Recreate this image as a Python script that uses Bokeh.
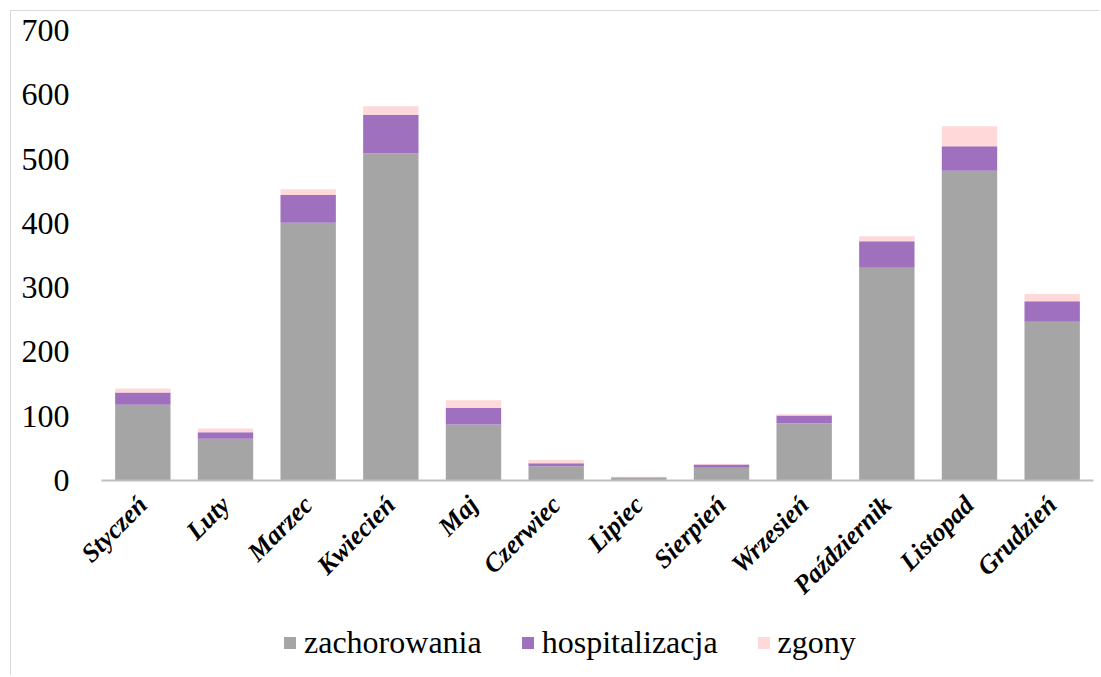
from bokeh.plotting import figure
from bokeh.models import ColumnDataSource, Legend, LegendItem, FixedTicker
from bokeh.layouts import column
from bokeh.embed import file_html
from bokeh.resources import INLINE
import math

months = ["Styczeń", "Luty", "Marzec", "Kwiecień", "Maj", "Czerwiec", "Lipiec",
          "Sierpień", "Wrzesień", "Październik", "Listopad", "Grudzień"]
zachorowania = [118, 65, 401, 509, 87, 22, 5, 20, 89, 331, 482, 247]
hospitalizacja = [19, 10, 43, 60, 26, 5, 0, 5, 12, 41, 38, 32]
zgony = [6, 6, 9, 13, 12, 5, 1, 1, 2, 8, 31, 11]
series = ["zachorowania", "hospitalizacja", "zgony"]
colors = ["#a5a5a5", "#9e70be", "#ffd9d9"]
y_ticks = [0, 100, 200, 300, 400, 500, 600, 700]

source = ColumnDataSource(dict(months=months, zachorowania=zachorowania,
                               hospitalizacja=hospitalizacja, zgony=zgony))

font = "Liberation Serif"
W = 1088

p = figure(x_range=months, y_range=(0, 700), width=W, height=604,
           output_backend="svg", toolbar_location=None,
           min_border_left=90, min_border_right=6, min_border_top=19, min_border_bottom=135)

p.vbar_stack(series, x="months", width=0.67, color=colors, line_color=None, source=source)

p.xgrid.grid_line_color = None
p.ygrid.grid_line_color = None
p.outline_line_color = None

p.yaxis.ticker = FixedTicker(ticks=y_ticks)
p.yaxis.axis_line_color = None
p.yaxis.major_tick_line_color = None
p.yaxis.minor_tick_line_color = None
p.yaxis.major_label_text_font = font
p.yaxis.major_label_text_font_size = "32px"
p.yaxis.major_label_text_color = "#000000"
p.yaxis.major_label_standoff = 26

p.xaxis.axis_line_color = "#bfbfbf"
p.xaxis.axis_line_width = 2
p.xaxis.major_tick_line_color = None
p.xaxis.minor_tick_line_color = None
p.xaxis.major_label_text_font = font
p.xaxis.major_label_text_font_size = "26px"
p.xaxis.major_label_text_font_style = "bold italic"
p.xaxis.major_label_text_color = "#000000"
p.xaxis.major_label_orientation = math.pi / 4
p.xaxis.major_label_standoff = 14

# legend strip below the chart (renderers sit outside its visible y range)
pl = figure(x_range=months, y_range=(1000, 1001), width=W, height=60,
            output_backend="svg", toolbar_location=None,
            min_border=0, min_border_left=0, min_border_right=0,
            min_border_top=0, min_border_bottom=0)
pl.axis.visible = False
pl.grid.grid_line_color = None
pl.outline_line_color = None
lrs = pl.vbar_stack(series, x="months", width=0.67, color=colors, line_color=None, source=source)

legend = Legend(items=[LegendItem(label=s, renderers=[r]) for s, r in zip(series, lrs)],
                orientation="horizontal", location=(181, 14),
                label_text_font=font, label_text_font_size="32px", label_text_color="#000000",
                glyph_width=15, glyph_height=15, spacing=38, label_standoff=7,
                border_line_color=None, background_fill_alpha=0,
                margin=0, padding=0)
pl.add_layout(legend, "center")

layout = column(p, pl, spacing=0,
                styles={"margin": "10px 0 0 10px",
                        "border-top": "1px solid #d9d9d9",
                        "border-left": "1px solid #d9d9d9"})

open("out.html", "w").write(file_html(layout, INLINE))
